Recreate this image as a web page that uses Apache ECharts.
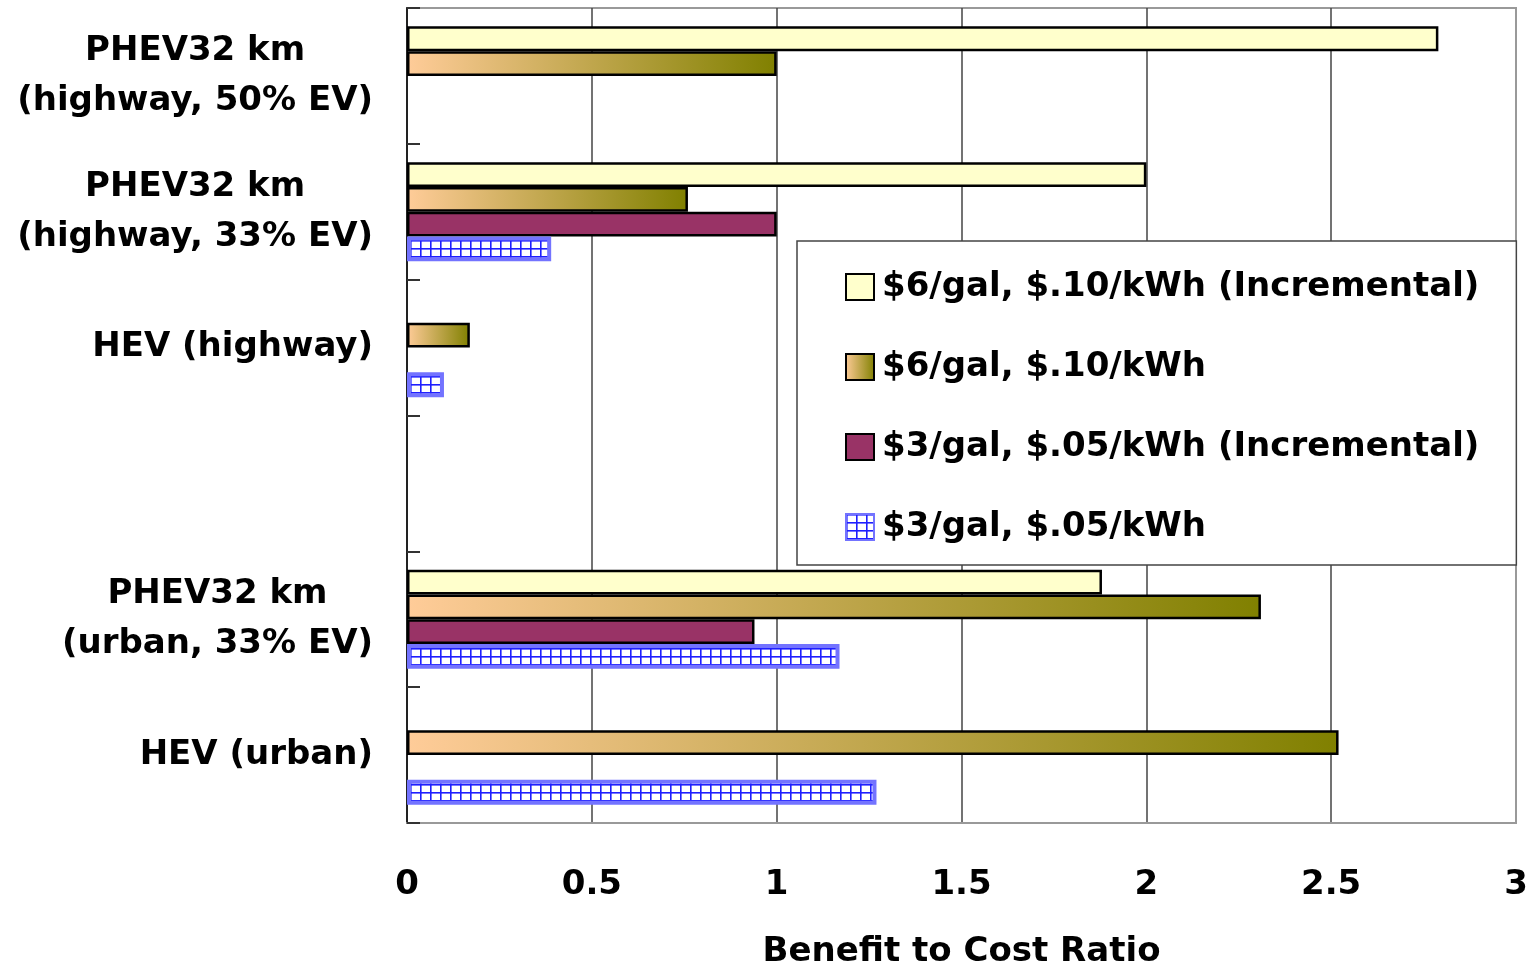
<!DOCTYPE html>
<html>
<head>
<meta charset="utf-8">
<script src="https://cdn.jsdelivr.net/npm/echarts@6/dist/echarts.min.js"></script>
<style>
html,body{margin:0;padding:0;background:#fff;}
#chart{width:1527px;height:967px;}
</style>
</head>
<body>
<div id="chart"></div>
<script>
// ---- data ----
const categories = [
  'PHEV32 km\n(highway, 50% EV)',
  'PHEV32 km\n(highway, 33% EV)',
  'HEV (highway)',
  '',
  'PHEV32 km\n(urban, 33% EV)',
  'HEV (urban)'
];
const seriesNames = [
  '$6/gal, $.10/kWh (Incremental)',
  '$6/gal, $.10/kWh',
  '$3/gal, $.05/kWh (Incremental)',
  '$3/gal, $.05/kWh'
];
const s6Incremental = [2.79, 2.0, null, null, 1.88, null];
const s6Total       = [1.0, 0.76, 0.17, null, 2.31, 2.52];
const s3Incremental = [null, 1.0, null, null, 0.94, null];
const s3Total       = [null, 0.39, 0.10, null, 1.17, 1.27];
const xTicks = { min: 0, max: 3, interval: 0.5 };

// ---- styles ----
const FONT = 'DejaVu Sans';
const FS = 34;
const pat = document.createElement('canvas');
pat.width = 10; pat.height = 8;
const pc = pat.getContext('2d');
pc.fillStyle = '#ffffff'; pc.fillRect(0, 0, 10, 8);
pc.fillStyle = '#1f1fff';
pc.fillRect(0, 0, 1.6, 8);
pc.fillRect(0, 0, 10, 1.6);

const gradient = new echarts.graphic.LinearGradient(0, 0, 1, 0, [
  { offset: 0, color: '#FFCC99' },
  { offset: 1, color: '#808000' }
]);

const styles = [
  { color: '#FFFFCC', borderColor: '#000', borderWidth: 2.5 },
  { color: gradient, borderColor: '#000', borderWidth: 2.5 },
  { color: '#993366', borderColor: '#000', borderWidth: 2.5 },
  { color: { image: pat, repeat: 'repeat' }, borderColor: '#7373ff', borderWidth: 4 }
];
const datasets = [s6Incremental, s6Total, s3Incremental, s3Total];

const chart = echarts.init(document.getElementById('chart'), null, { renderer: 'canvas' });
chart.setOption({
  animation: false,
  backgroundColor: '#fff',
  grid: {
    left: 407, top: 8, right: 11, bottom: 144,
    outerBoundsMode: 'none',
    containLabel: false,
    show: true, borderColor: '#999', borderWidth: 2, backgroundColor: '#fff'
  },
  legend: {
    orient: 'vertical',
    left: 797, top: 241,
    backgroundColor: '#fff',
    borderColor: '#444', borderWidth: 1.5,
    padding: [29, 37, 21, 48],
    itemWidth: 28, itemHeight: 26, itemGap: 46,
    icon: 'rect',
    z: 10,
    textStyle: { fontFamily: FONT, fontWeight: 'bold', fontSize: FS, color: '#000', lineHeight: 30, padding: [0, 0, 0, 3] },
    data: seriesNames
  },
  xAxis: {
    type: 'value',
    min: xTicks.min, max: xTicks.max, interval: xTicks.interval,
    name: 'Benefit to Cost Ratio',
    nameLocation: 'middle',
    nameGap: 109,
    nameTextStyle: { fontFamily: FONT, fontWeight: 'bold', fontSize: FS, color: '#000', lineHeight: 40 },
    axisLine: { show: true, lineStyle: { color: '#999', width: 2 } },
    axisTick: { show: false },
    axisLabel: { fontFamily: FONT, fontWeight: 'bold', fontSize: FS, color: '#000', margin: 42, lineHeight: 40 },
    splitLine: { show: true, showMinLine: false, showMaxLine: false, lineStyle: { color: '#444', width: 1.5 } }
  },
  yAxis: {
    type: 'category',
    inverse: true,
    data: categories,
    axisLine: { show: true, lineStyle: { color: '#222', width: 2 } },
    axisTick: { show: true, inside: true, length: 13, lineStyle: { color: '#333', width: 2 } },
    axisLabel: {
      margin: 34,
      align: 'right',
      formatter: function (v) {
        return v.split('\n').map(function (l) { return '{c|' + l + '}'; }).join('\n');
      },
      rich: {
        c: { fontFamily: FONT, fontWeight: 'bold', fontSize: FS, color: '#000', lineHeight: 50, align: 'center' }
      }
    },
    splitLine: { show: false }
  },
  series: datasets.map(function (d, i) {
    return {
      name: seriesNames[i],
      type: 'bar',
      data: d,
      barGap: '0%',
      barCategoryGap: '27%',
      itemStyle: styles[i]
    };
  })
});
</script>
</body>
</html>
